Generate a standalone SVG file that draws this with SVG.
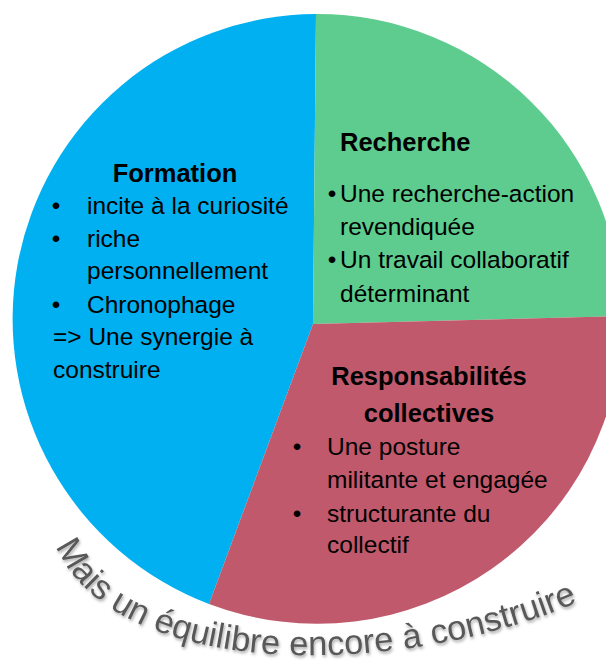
<svg xmlns="http://www.w3.org/2000/svg" width="606" height="665" viewBox="0 0 606 665">
<defs>
<style>
.t{font-family:"Liberation Sans",Arial,sans-serif;font-size:24.5px;fill:#000}
.h{font-family:"Liberation Sans",Arial,sans-serif;font-size:25.5px;font-weight:bold;fill:#000}
.m{text-anchor:middle}
.arc{font-family:"Liberation Sans",Arial,sans-serif;font-size:34.5px;fill:#595959}
</style>
<filter id="sh" x="-10%" y="-30%" width="120%" height="160%">
<feDropShadow dx="1" dy="2" stdDeviation="1.5" flood-color="#000" flood-opacity="0.35"/>
</filter>
<path id="curve" d="M56,546 C115,682 405,682 592,596" fill="none"/>
</defs>
<rect width="606" height="665" fill="#fff"/>

<g id="formation">
<path d="M313,324 L316,14 A305,305 0 0,0 209,604 Z" fill="#00B0F0"/>
<text class="h m" x="175" y="182">Formation</text>
<text class="t m" x="56" y="214">•</text><text class="t" x="87" y="214">incite à la curiosité</text>
<text class="t m" x="56" y="247">•</text><text class="t" x="87" y="247">riche</text>
<text class="t" x="87" y="279">personnellement</text>
<text class="t m" x="56" y="313">•</text><text class="t" x="87" y="313">Chronophage</text>
<text class="t" x="53" y="345">=&gt; Une synergie à</text>
<text class="t" x="53" y="378">construire</text>
</g>

<g id="recherche">
<path d="M313,324 L316,14 A305,305 0 0,1 622,316 Z" fill="#5ECC8E"/>
<text class="h" x="340" y="151">Recherche</text>
<text class="t m" x="332" y="202">•</text><text class="t" x="340" y="202">Une recherche-action</text>
<text class="t" x="340" y="235">revendiquée</text>
<text class="t m" x="332" y="268">•</text><text class="t" x="340" y="268">Un travail collaboratif</text>
<text class="t" x="340" y="302">déterminant</text>
</g>

<g id="responsabilites">
<path d="M313,324 L622,316 A305,305 0 0,1 209,604 Z" fill="#C0596B"/>
<text class="h m" x="429" y="385">Responsabilités</text>
<text class="h m" x="429" y="422">collectives</text>
<text class="t m" x="297" y="455">•</text><text class="t" x="327" y="455">Une posture</text>
<text class="t" x="327" y="488">militante et engagée</text>
<text class="t m" x="297" y="522">•</text><text class="t" x="327" y="522">structurante du</text>
<text class="t" x="327" y="553">collectif</text>
</g>

<g id="connectors"></g>

<g id="caption" filter="url(#sh)">
<text class="arc"><textPath href="#curve">Mais un équilibre encore à construire</textPath></text>
</g>
</svg>
